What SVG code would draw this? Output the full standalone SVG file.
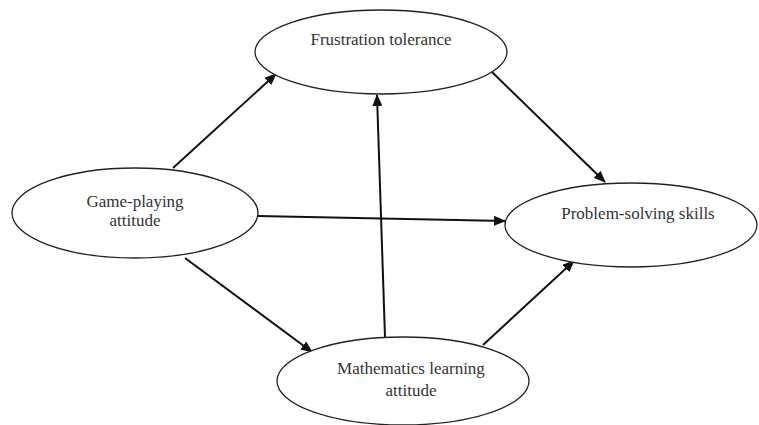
<svg xmlns="http://www.w3.org/2000/svg" width="759" height="425" viewBox="0 0 759 425">
<style>
.node ellipse{fill:#fff;stroke:#222;stroke-width:1.3}
.node text{font-family:"Liberation Serif","Times New Roman",serif;font-size:17px;fill:#333;text-anchor:middle}
.edge{stroke:#111;stroke-width:2;fill:none;marker-end:url(#ah)}
</style>
<defs>
<marker id="ah" markerWidth="12" markerHeight="10" refX="11" refY="5" orient="auto" markerUnits="userSpaceOnUse">
<path d="M0,0 L12,5 L0,10 Z" fill="#111"/>
</marker>
</defs>
<rect width="759" height="425" fill="#fff"/>
<g id="connectors">
<line class="edge" x1="173" y1="168" x2="276" y2="74"/>
<line class="edge" x1="492" y1="72" x2="605" y2="182"/>
<line class="edge" x1="258" y1="216" x2="505" y2="221"/>
<line class="edge" x1="185" y1="258" x2="312" y2="352"/>
<line class="edge" x1="385" y1="337" x2="377" y2="95"/>
<line class="edge" x1="483" y1="345" x2="574" y2="261"/>
</g>
<g id="frustration" class="node">
<ellipse cx="381" cy="52" rx="126" ry="42"/>
<text x="381" y="45">Frustration tolerance</text>
</g>
<g id="game" class="node">
<ellipse cx="135" cy="213" rx="123" ry="45"/>
<text x="135" y="207">Game-playing</text>
<text x="135" y="226">attitude</text>
</g>
<g id="problem" class="node">
<ellipse cx="631" cy="225" rx="126" ry="42"/>
<text x="638" y="219">Problem-solving skills</text>
</g>
<g id="math" class="node">
<ellipse cx="403" cy="381" rx="126" ry="44"/>
<text x="411" y="374">Mathematics learning</text>
<text x="411" y="396">attitude</text>
</g>
</svg>
